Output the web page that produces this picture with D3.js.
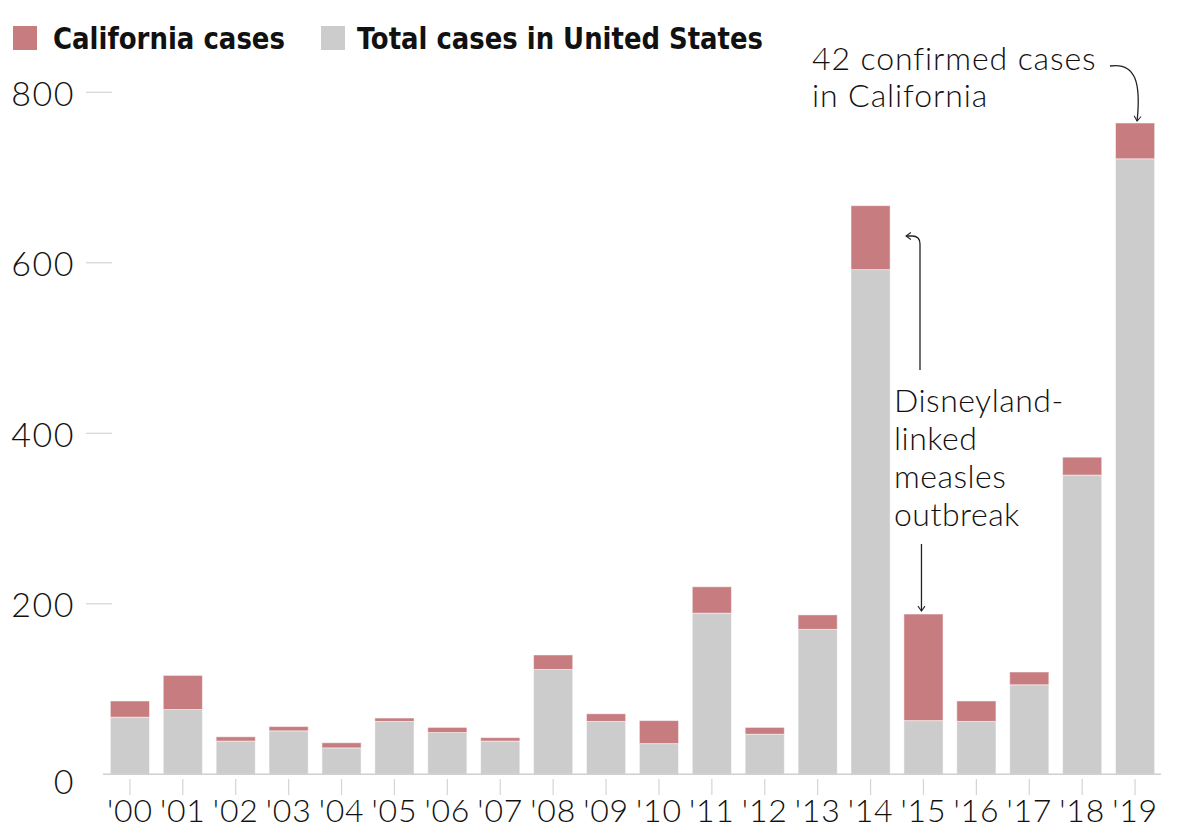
<!DOCTYPE html>
<html>
<head>
<meta charset="utf-8">
<script src="https://cdn.jsdelivr.net/npm/d3@7"></script>
<style>
  html, body { margin: 0; padding: 0; background: #fff; }
  svg { display: block; }
  .lt { font-family: "Lato", "Open Sans", sans-serif; font-weight: 300; fill: #111; }
  .lg { font-family: "Liberation Sans Narrow", "DejaVu Sans Condensed", "Roboto", sans-serif; font-weight: 700; fill: #111; }
</style>
</head>
<body>
<svg id="chart" width="1200" height="828"></svg>
<script>
const years = ["'00","'01","'02","'03","'04","'05","'06","'07","'08","'09","'10","'11","'12","'13","'14","'15","'16","'17","'18","'19"];
const usTotal = [86,116,44,56,37,66,55,43,140,71,63,220,55,187,667,188,86,120,372,764];
const caCases = [19,40,5,5,6,4,6,4,17,9,27,31,8,17,75,125,24,15,21,42];
const yTicks = [0,200,400,600,800];
const seriesNames = ["California cases", "Total cases in United States"];
const colors = { ca: "#c77c80", us: "#cccccc" };

const svg = d3.select("#chart");

const x = d3.scaleBand().domain(years).range([104, 1161]).paddingInner(0.26).paddingOuter(0.12);
const y = d3.scaleLinear().domain([0, 800]).range([774.3, 92.3]);

const rows = years.map((yr, i) => ({ yr, total: usTotal[i], ca: caCases[i], other: usTotal[i] - caCases[i] }));

// y ticks (short lines) and labels
const yg = svg.append("g");
yTicks.filter(t => t > 0).forEach(t => {
  yg.append("line").attr("x1", 86).attr("x2", 112).attr("y1", y(t)).attr("y2", y(t))
    .attr("stroke", "#d4d4d4").attr("stroke-width", 1.2);
});
yTicks.forEach(t => {
  yg.append("text").attr("class", "lt").attr("x", 75).attr("y", y(t) + (t === 0 ? 6 : 0))
    .attr("text-anchor", "end").attr("dominant-baseline", "central")
    .attr("font-size", 34).attr("letter-spacing", 1.5).text(t);
});

// bars
const bars = svg.append("g");
bars.selectAll("rect.us").data(rows).join("rect")
  .attr("class", "us")
  .attr("x", d => x(d.yr)).attr("width", x.bandwidth())
  .attr("y", d => y(d.other)).attr("height", d => y(0) - y(d.other))
  .attr("fill", colors.us).attr("stroke", "#fff").attr("stroke-opacity", 0.5).attr("stroke-width", 1);
bars.selectAll("rect.ca").data(rows).join("rect")
  .attr("class", "ca")
  .attr("x", d => x(d.yr)).attr("width", x.bandwidth())
  .attr("y", d => y(d.total)).attr("height", d => y(d.other) - y(d.total))
  .attr("fill", colors.ca).attr("stroke", "#fff").attr("stroke-opacity", 0.5).attr("stroke-width", 1);

// x axis baseline
svg.append("line").attr("x1", 103).attr("x2", 1161).attr("y1", y(0)).attr("y2", y(0))
  .attr("stroke", "#d0d0d0").attr("stroke-width", 1.5);

// x ticks and labels
const xg = svg.append("g");
years.forEach(yr => {
  const cx = x(yr) + x.bandwidth() / 2;
  xg.append("line").attr("x1", cx).attr("x2", cx).attr("y1", 779).attr("y2", 795)
    .attr("stroke", "#d4d4d4").attr("stroke-width", 1.2);
  xg.append("text").attr("class", "lt").attr("x", cx).attr("y", 822)
    .attr("text-anchor", "middle").attr("font-size", 32).attr("letter-spacing", 0.8).text(yr);
});

// legend
const leg = svg.append("g");
leg.append("rect").attr("x", 13).attr("y", 26).attr("width", 24).attr("height", 24).attr("fill", colors.ca);
leg.append("text").attr("class", "lg").attr("x", 53).attr("y", 49).attr("font-size", 30)
  .attr("textLength", 232).attr("lengthAdjust", "spacingAndGlyphs").text(seriesNames[0]);
leg.append("rect").attr("x", 321).attr("y", 26).attr("width", 24).attr("height", 24).attr("fill", colors.us);
leg.append("text").attr("class", "lg").attr("x", 357).attr("y", 49).attr("font-size", 30)
  .attr("textLength", 406).attr("lengthAdjust", "spacingAndGlyphs").text(seriesNames[1]);

// arrow marker
const defs = svg.append("defs");
defs.append("marker").attr("id", "arr").attr("viewBox", "-10 -10 20 20")
  .attr("refX", 0).attr("refY", 0).attr("markerWidth", 14).attr("markerHeight", 14)
  .attr("markerUnits", "userSpaceOnUse").attr("orient", "auto")
  .append("path").attr("d", "M-7,-5 L0,0 L-7,5").attr("fill", "none").attr("stroke", "#222").attr("stroke-width", 1.5);

// annotation 2019
const ann = svg.append("g");
ann.append("text").attr("class", "lt").attr("x", 812).attr("y", 70).attr("font-size", 32).attr("letter-spacing", 0.9).text("42 confirmed cases");
ann.append("text").attr("class", "lt").attr("x", 812).attr("y", 107).attr("font-size", 32).attr("letter-spacing", 0.9).text("in California");
const x19 = x("'19") + x.bandwidth() / 2;
ann.append("path").attr("d", `M1110,66 C1136,62 ${x19 + 6},84 ${x19 + 2},${y(usTotal[19]) - 2}`)
  .attr("fill", "none").attr("stroke", "#222").attr("stroke-width", 1.3).attr("marker-end", "url(#arr)");

// Disneyland annotation
const dl = ["Disneyland-", "linked", "measles", "outbreak"];
dl.forEach((t, i) => {
  ann.append("text").attr("class", "lt").attr("x", 894).attr("y", 412 + i * 38).attr("font-size", 32).attr("letter-spacing", 0.5).text(t);
});
const x15 = x("'15") + x.bandwidth() / 2;
ann.append("path").attr("d", `M920,370 L920,244 Q920,236 912,236 L906,236`)
  .attr("fill", "none").attr("stroke", "#222").attr("stroke-width", 1.3).attr("marker-end", "url(#arr)");
ann.append("path").attr("d", `M${x15 - 2},544 L${x15 - 2},${y(usTotal[15]) - 3}`)
  .attr("fill", "none").attr("stroke", "#222").attr("stroke-width", 1.3).attr("marker-end", "url(#arr)");
</script>
</body>
</html>
